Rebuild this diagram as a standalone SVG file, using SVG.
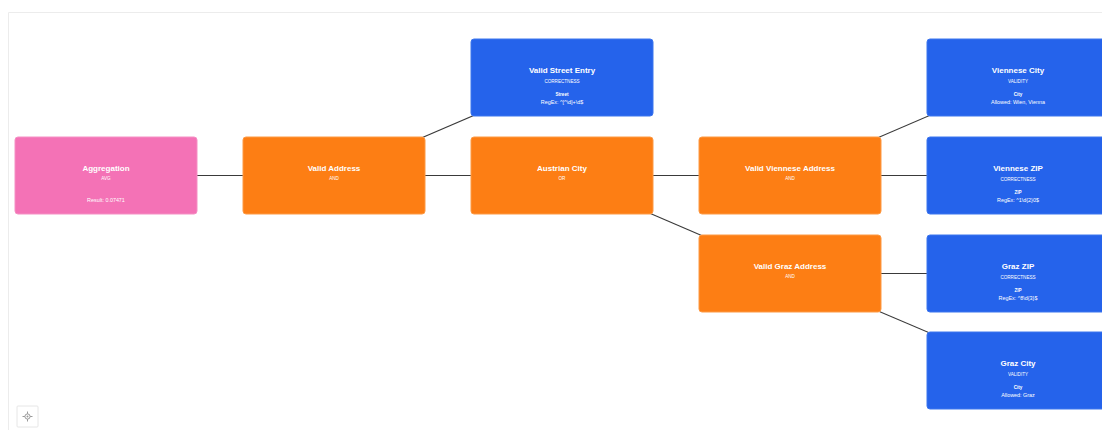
<svg xmlns="http://www.w3.org/2000/svg" width="1102" height="430" viewBox="0 0 1102 430">
  <style>
    .card { stroke-width: 1; }
    .pink { fill: #f472b6; stroke: #f590c4; }
    .orange { fill: #fd7e14; stroke: #fd9a45; }
    .blue { fill: #2563eb; stroke: #3d76ee; }
    text { font-family: "Liberation Sans", Arial, sans-serif; fill: #ffffff; text-anchor: middle; }
    .title { font-size: 8px; font-weight: bold; }
    .sub { font-size: 4.6px; }
    .lbl { font-size: 4.6px; font-weight: bold; }
    .val { font-size: 5.4px; }
    .edge { stroke: #3a3a3a; stroke-width: 1.1; fill: none; }
  </style>
  <rect x="0" y="0" width="1102" height="430" fill="#ffffff"/>
  <!-- canvas frame -->
  <path d="M8.5 430 V12.5 H1102" fill="none" stroke="#ececec" stroke-width="1"/>

  <!-- connectors: straight lines between node centres, drawn beneath the cards -->
  <g id="edges">
    <line class="edge" x1="106" y1="175.5" x2="334" y2="175.5"/>
    <line class="edge" x1="334" y1="175.5" x2="562" y2="77.5"/>
    <line class="edge" x1="334" y1="175.5" x2="562" y2="175.5"/>
    <line class="edge" x1="562" y1="175.5" x2="790" y2="175.5"/>
    <line class="edge" x1="562" y1="175.5" x2="790" y2="273.5"/>
    <line class="edge" x1="790" y1="175.5" x2="1018" y2="77.5"/>
    <line class="edge" x1="790" y1="175.5" x2="1018" y2="175.5"/>
    <line class="edge" x1="790" y1="273.5" x2="1018" y2="273.5"/>
    <line class="edge" x1="790" y1="273.5" x2="1018" y2="370.5"/>
  </g>

  <g id="aggregation" transform="translate(15,137)">
    <rect class="card pink" width="182" height="77" rx="3"/>
    <text class="title" x="91" y="34">Aggregation</text>
    <text class="sub" x="91" y="43">AVG</text>
    <text class="val" x="91" y="65">Result: 0.07471</text>
  </g>

  <g id="valid-address" transform="translate(243,137)">
    <rect class="card orange" width="182" height="77" rx="3"/>
    <text class="title" x="91" y="34">Valid Address</text>
    <text class="sub" x="91" y="43">AND</text>
  </g>

  <g id="valid-street-entry" transform="translate(471,39)">
    <rect class="card blue" width="182" height="77" rx="3"/>
    <text class="title" x="91" y="34">Valid Street Entry</text>
    <text class="sub" x="91" y="44">CORRECTNESS</text>
    <text class="lbl" x="91" y="56.5">Street</text>
    <text class="val" x="91" y="64.5">RegEx: ^[^\d]+\d$</text>
  </g>

  <g id="austrian-city" transform="translate(471,137)">
    <rect class="card orange" width="182" height="77" rx="3"/>
    <text class="title" x="91" y="34">Austrian City</text>
    <text class="sub" x="91" y="43">OR</text>
  </g>

  <g id="valid-viennese-address" transform="translate(699,137)">
    <rect class="card orange" width="182" height="77" rx="3"/>
    <text class="title" x="91" y="34">Valid Viennese Address</text>
    <text class="sub" x="91" y="43">AND</text>
  </g>

  <g id="valid-graz-address" transform="translate(699,235)">
    <rect class="card orange" width="182" height="77" rx="3"/>
    <text class="title" x="91" y="34">Valid Graz Address</text>
    <text class="sub" x="91" y="43">AND</text>
  </g>

  <g id="viennese-city" transform="translate(927,39)">
    <rect class="card blue" width="182" height="77" rx="3"/>
    <text class="title" x="91" y="34">Viennese City</text>
    <text class="sub" x="91" y="44">VALIDITY</text>
    <text class="lbl" x="91" y="56.5">City</text>
    <text class="val" x="91" y="64.5">Allowed: Wien, Vienna</text>
  </g>

  <g id="viennese-zip" transform="translate(927,137)">
    <rect class="card blue" width="182" height="77" rx="3"/>
    <text class="title" x="91" y="34">Viennese ZIP</text>
    <text class="sub" x="91" y="44">CORRECTNESS</text>
    <text class="lbl" x="91" y="56.5">ZIP</text>
    <text class="val" x="91" y="64.5">RegEx: ^1\d{2}0$</text>
  </g>

  <g id="graz-zip" transform="translate(927,235)">
    <rect class="card blue" width="182" height="77" rx="3"/>
    <text class="title" x="91" y="34">Graz ZIP</text>
    <text class="sub" x="91" y="44">CORRECTNESS</text>
    <text class="lbl" x="91" y="56.5">ZIP</text>
    <text class="val" x="91" y="64.5">RegEx: ^8\d{3}$</text>
  </g>

  <g id="graz-city" transform="translate(927,332)">
    <rect class="card blue" width="182" height="77" rx="3"/>
    <text class="title" x="91" y="34">Graz City</text>
    <text class="sub" x="91" y="44">VALIDITY</text>
    <text class="lbl" x="91" y="56.5">City</text>
    <text class="val" x="91" y="64.5">Allowed: Graz</text>
  </g>

  <!-- fit-view control -->
  <g id="fit-view-control" transform="translate(17,406)">
    <rect width="21" height="21" fill="#ffffff" stroke="#e6e6e6" stroke-width="1" rx="1"/>
    <circle cx="10.5" cy="10.5" r="2.6" fill="none" stroke="#9a9a9a" stroke-width="1"/>
    <circle cx="10.5" cy="10.5" r="1" fill="#9a9a9a"/>
    <path d="M10.5 5.5 V7.9 M10.5 13.1 V15.5 M5.5 10.5 H7.9 M13.1 10.5 H15.5" stroke="#9a9a9a" stroke-width="1"/>
  </g>
</svg>
